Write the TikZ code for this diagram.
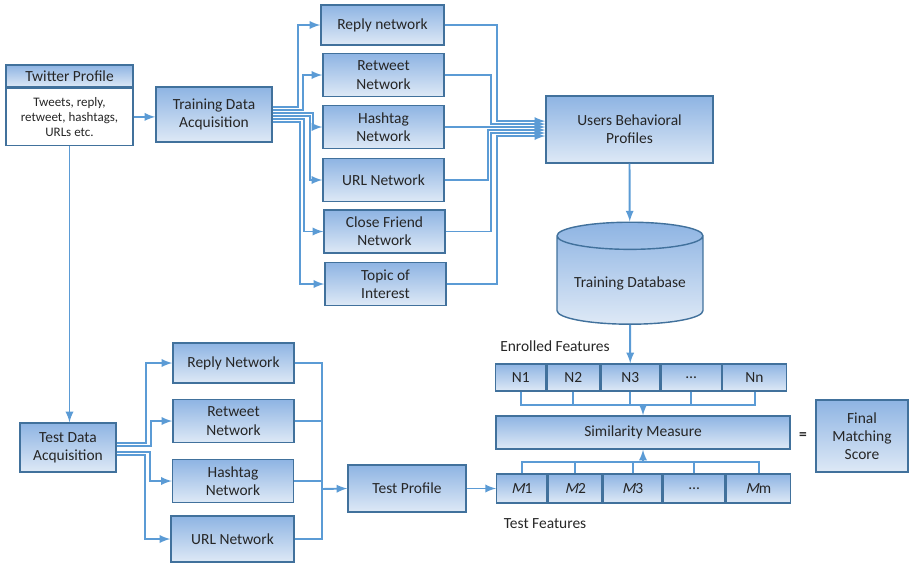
\documentclass[tikz,border=0pt]{standalone}
\usepackage{fontspec}
\setmainfont{Carlito}
\newfontfamily\slantfont[FakeSlant=0.22]{Carlito}
\usetikzlibrary{positioning,shapes.geometric}

\definecolor{bord}{RGB}{65,113,156}
\definecolor{shtop}{RGB}{142,180,227}
\definecolor{shbot}{RGB}{222,233,246}
\definecolor{lnk}{RGB}{91,155,213}
\definecolor{txt}{RGB}{38,38,38}

\newcommand{\mvar}{{\slantfont M}}

\tikzset{
	box/.style = {rectangle, draw=bord, thick, text=txt, align=center, inner sep=1pt,
		font=\fontsize{8.8}{10.4}\selectfont},
	block/.style = {box, top color=shtop, bottom color=shbot},
	netw/.style = {block, minimum width=2.42cm, minimum height=0.86cm},
	cell/.style = {block, minimum height=0.54cm, inner sep=0pt},
	database/.style = {cylinder, shape border rotate=90, aspect=0.22, draw=bord, thick,
		top color=shtop, bottom color=shbot, text=txt, font=\fontsize{8.8}{10.4}\selectfont,
		minimum height=2.04cm, minimum width=2.92cm},
	lbl/.style = {text=txt, inner sep=0pt, font=\fontsize{8.8}{10.4}\selectfont},
	line/.style = {draw=lnk, line width=1.1pt},
	link/.style = {line, -latex}
}

\begin{document}
\begin{tikzpicture}[x=0.02cm, y=-0.02cm]
	\useasboundingbox (0,0) rectangle (909,562);
	
	% twitter profile and training
	\node [block, minimum width=2.54cm, minimum height=0.44cm] (tphead) at (69.5,76) {Twitter Profile};
	\node [box, fill=white, minimum width=2.54cm, minimum height=1.14cm,
		font=\fontsize{7.4}{8.6}\selectfont, below=0pt of tphead] (tpbody) {Tweets, reply,\\retweet, hashtags,\\URLs etc.};
	\node [block, minimum width=2.32cm, minimum height=1.1cm] (tda) at (214,114.5) {Training Data\\Acquisition};
	
	\node [netw, minimum width=2.46cm, minimum height=0.8cm] (rep) at (382.5,25) {Reply network};
	\node [netw] (ret) at (383.5,75) {Retweet\\Network};
	\node [netw] (hash) at (383.5,127) {Hashtag\\Network};
	\node [netw] (url) at (383.5,180) {URL Network};
	\node [netw] (cfn) at (384.5,231.5) {Close Friend\\Network};
	\node [netw] (toi) at (385.5,284) {Topic of\\Interest};
	
	\node [block, minimum width=3.34cm, minimum height=1.34cm] (ubp) at (629.5,129.5) {Users Behavioral\\Profiles};
	\node [database] (db) at (630,283) {Training Database};
	
	% features
	\node [lbl] (enr) at (555,346) {Enrolled Features};
	\node [cell, minimum width=1cm, anchor=west] (n1) at (495,377.5) {N1};
	\node [cell, minimum width=1.05cm, right=0pt of n1] (n2) {N2};
	\node [cell, minimum width=1.17cm, right=0pt of n2] (n3) {N3};
	\node [cell, minimum width=1.21cm, right=0pt of n3] (n4) {\ldots};
	\node [cell, minimum width=1.27cm, right=0pt of n4] (nn) {Nn};
	
	\node [block, minimum width=5.88cm, minimum height=0.66cm] (sim) at (643,432.5) {Similarity Measure};
	\node [lbl] (eq) at (803,436) {\textbf{=}};
	\node [block, minimum width=1.84cm, minimum height=1.44cm] (fms) at (862,436) {Final\\Matching\\Score};
	
	\node [cell, minimum width=1.01cm, minimum height=0.58cm, anchor=west] (m1) at (496,488.5) {\mvar1};
	\node [cell, minimum width=1.07cm, minimum height=0.58cm, right=0pt of m1] (m2) {\mvar2};
	\node [cell, minimum width=1.17cm, minimum height=0.58cm, right=0pt of m2] (m3) {\mvar3};
	\node [cell, minimum width=1.23cm, minimum height=0.58cm, right=0pt of m3] (m4) {\ldots};
	\node [cell, minimum width=1.29cm, minimum height=0.58cm, right=0pt of m4] (mm) {\mvar m};
	\node [lbl] (tfe) at (545,524) {Test Features};
	
	% test side
	\node [block, minimum width=1.92cm, minimum height=0.98cm] (tsa) at (68,447.5) {Test Data\\Acquisition};
	\node [netw, minimum height=0.8cm] (trep) at (233.5,363) {Reply Network};
	\node [netw] (tret) at (233.5,421) {Retweet\\Network};
	\node [netw] (thash) at (233,481) {Hashtag\\Network};
	\node [netw, minimum width=2.46cm, minimum height=0.92cm] (turl) at (232.5,539) {URL Network};
	\node [block, minimum width=2.36cm, minimum height=0.94cm] (tp) at (407,488.5) {Test Profile};
	\coordinate (tj) at (322,489);
	
	%arrows training
	\path [link] (tpbody.east) -- (tpbody.east -| tda.west);
	\path [link] (tpbody.south) -- (tpbody.south |- tsa.north);
	
	\path [link] ([yshift=4.25pt]tda.east) -- ++(25,0) |- (rep.west);
	\path [link] ([yshift=2.55pt]tda.east) -- ++(30,0) |- (ret.west);
	\path [link] ([yshift=0.85pt]tda.east) -- ++(40,0) |- (hash.west);
	\path [link] ([yshift=-0.85pt]tda.east) -- ++(37,0) |- (url.west);
	\path [link] ([yshift=-2.55pt]tda.east) -- ++(31,0) |- (cfn.west);
	\path [link] ([yshift=-4.25pt]tda.east) -- ++(27,0) |- (toi.west);
	
	\path [link] (rep.east) -- ++(52,0) |- ([yshift=4.8pt]ubp.west);
	\path [link] (ret.east) -- ++(46,0) |- ([yshift=3.1pt]ubp.west);
	\path [link] (hash.east) -- (hash.east -| ubp.west);
	\path [link] (url.east) -- ++(43,0) |- ([yshift=-0.3pt]ubp.west);
	\path [link] (cfn.east) -- ++(45,0) |- ([yshift=-2pt]ubp.west);
	\path [link] (toi.east) -- ++(50,0) |- ([yshift=-3.7pt]ubp.west);
	
	\path [link] (ubp.south) -- (db);
	\path [link] (db) -- (n3.north);
	
	%brackets
	\path [line] (n1.south) -- ++(0,13) coordinate (nbar) -| (nn.south);
	\foreach \c in {n2,n3,n4}
		\path [line] (\c.south) -- (\c.south |- nbar);
	\path [link] (nbar -| sim.north) -- (sim.north);
	
	\path [line] (m1.north) -- ++(0,-11) coordinate (mbar) -| (mm.north);
	\foreach \c in {m2,m3,m4}
		\path [line] (\c.north) -- (\c.north |- mbar);
	\path [link] (mbar -| sim.south) -- (sim.south);
	
	%arrows test
	\path [link] ([yshift=2.5pt]tsa.east) -- ++(29,0) |- (trep.west);
	\path [link] ([yshift=1pt]tsa.east) -- ++(34,0) |- (tret.west);
	\path [link] ([yshift=-2.5pt]tsa.east) -- ++(33,0) |- (thash.west);
	\path [link] ([yshift=-4pt]tsa.east) -- ++(28,0) |- (turl.west);
	
	\foreach \c in {trep,tret,thash,turl}
		\path [line] (\c.east) -| (tj);
	\path [link] (tj) -- (tp.west);
	\path [link] (tp.east) -- (m1.west);
	
\end{tikzpicture}
\end{document}
